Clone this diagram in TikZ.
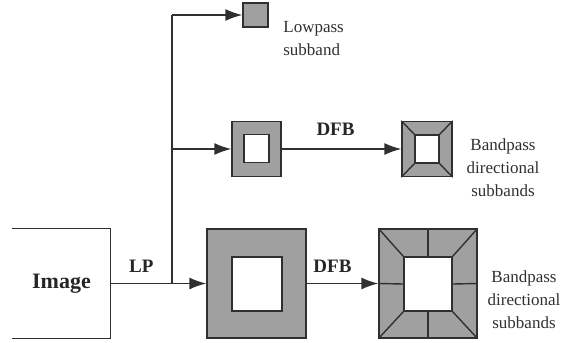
\documentclass[tikz,border=0pt]{standalone}
\usepackage{fontspec}
\setmainfont{Liberation Serif}
\usetikzlibrary{positioning,arrows.meta}
\definecolor{bandgray}{HTML}{A0A0A0}
\definecolor{linegray}{HTML}{303030}
\tikzset{
  band/.style 2 args={draw=linegray, fill=bandgray, inner sep=0pt, minimum width=#1, minimum height=#2},
  hole/.style 2 args={draw=linegray, fill=white, inner sep=0pt, minimum width=#1, minimum height=#2},
  flow/.style={-{Latex[length=8.5pt,width=6pt]}, draw=linegray},
  tag/.style={font=\fontsize{9.5}{11}\selectfont\bfseries, text=black!85},
  note/.style={font=\fontsize{8.5}{11.5}\selectfont, text=linegray, align=center},
}
\begin{document}
\begin{tikzpicture}[x=0.5pt,y=-0.5pt,line width=0.7pt]
  \useasboundingbox (0,0) rectangle (569,343);
  % input image
  \node[inner sep=0pt, minimum width=48.5pt, minimum height=54.5pt, font=\fontsize{11}{12}\selectfont\bfseries, text=black!85] (img) at (61.5,283.5) {Image};
  \draw[linegray] (img.north west) -- (img.north east) -- (img.south east) -- (img.south west);

  % subbands
  \node[band={12.5pt}{12pt}] (lp) at (255.5,15) {};
  \node[band={24.5pt}{27.5pt}] (bp2) at (256.5,149) {};
  \node[hole={12.5pt}{14pt}] (bp2in) at (256.5,148.5) {};
  \node[band={25pt}{27.5pt}] (dir2) at (427,149) {};
  \node[hole={12pt}{14pt}] (dir2in) at (427,149) {};
  \node[band={49.5pt}{54.5pt}] (bp1) at (256.5,283.5) {};
  \node[hole={25pt}{27pt}] (bp1in) at (257,284) {};
  \node[band={49pt}{54.5pt}] (dir1) at (428,283.5) {};
  \node[hole={24pt}{27pt}] (dir1in) at (428,284) {};

  % wedges
  \foreach \a in {north west,north east,south east,south west}{
    \draw[linegray] (dir2.\a) -- (dir2in.\a);
    \draw[linegray] (dir1.\a) -- (dir1in.\a);
  }
  \foreach \a in {north,east,south,west}
    \draw[linegray] (dir1.\a) -- (dir1in.\a);

  % labels
  \node[note, anchor=west, align=left] (lptext) at (276,39) {Lowpass\\subband};
  \node[note] (dir2text) at (503,168) {Bandpass\\directional\\subbands};
  \node[note] (dir1text) at (524,300) {Bandpass\\directional\\subbands};

  % connections
  \coordinate (split) at (172,283.5);
  \coordinate (split2) at (split |- bp2.west);
  \coordinate (split3) at (split |- lp.west);
  \draw[linegray] (img.east) -- node[tag, above=2pt] {LP} (split);
  \draw[flow] (split) -- (bp1.west);
  \draw[linegray] (split) -- (split3);
  \draw[flow] (split2) -- (bp2.west);
  \draw[flow] (split3) -- (lp.west);
  \draw[flow] (bp2.east) -- node[tag, above=3pt, pos=0.45] {DFB} (dir2.west);
  \draw[flow] (bp1.east) -- node[tag, above=2pt, pos=0.36] {DFB} (dir1.west);
\end{tikzpicture}
\end{document}
